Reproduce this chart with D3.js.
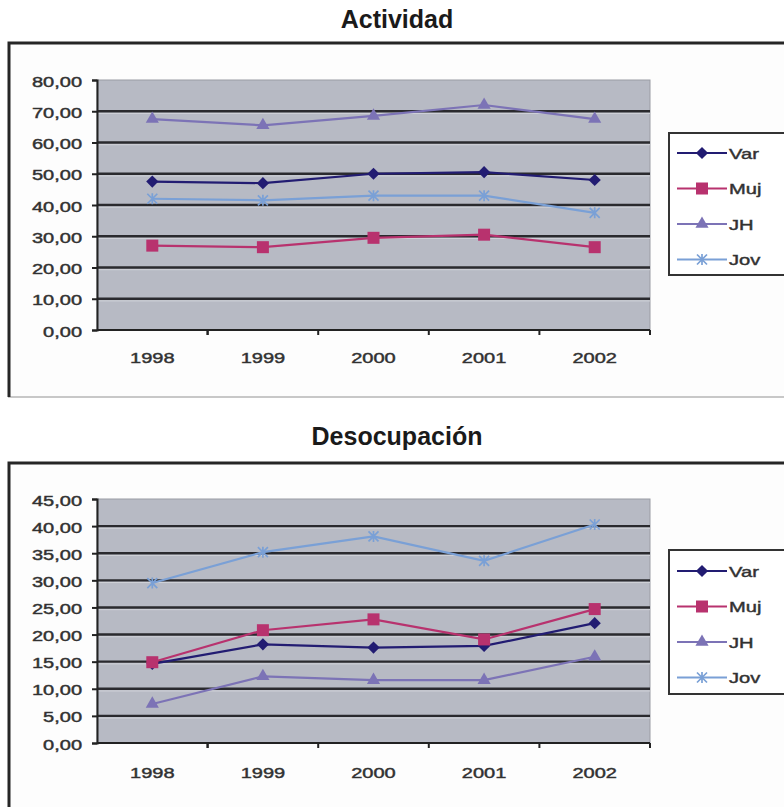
<!DOCTYPE html>
<html>
<head>
<meta charset="utf-8">
<script src="https://cdn.jsdelivr.net/npm/d3@7"></script>
<style>
  body { margin: 0; background: #fff; }
  svg { display: block; }
  .lbl { font-family: "Liberation Sans", Arial, sans-serif; fill: #2e2e2e; stroke: #3a3a3a; stroke-width: 0.45px; }
</style>
</head>
<body>
<div id="vizContainer"></div>
<script>
// data
const years = ["1998", "1999", "2000", "2001", "2002"];
const seriesNames = ["Var", "Muj", "JH", "Jov"];

const actVar = [47.5, 47.0, 50.0, 50.5, 48.0];
const actMuj = [27.0, 26.5, 29.5, 30.5, 26.5];
const actJH  = [67.5, 65.5, 68.5, 72.0, 67.5];
const actJov = [42.0, 41.5, 43.0, 43.0, 37.5];
const actTicks = [0, 10, 20, 30, 40, 50, 60, 70, 80];

const desVar = [14.6, 18.2, 17.6, 17.9, 22.1];
const desMuj = [14.9, 20.8, 22.8, 19.1, 24.7];
const desJH  = [7.2, 12.3, 11.6, 11.6, 15.9];
const desJov = [29.5, 35.2, 38.1, 33.6, 40.3];
const desTicks = [0, 5, 10, 15, 20, 25, 30, 35, 40, 45];

const colors = { Var: "#221c72", Muj: "#b8326e", JH: "#7c73b6", Jov: "#7aa0d6" };
const sx = 1.38; // the scanned labels look stretched wide

const W = 784, H = 807;
const svg = d3.select("#vizContainer").append("svg")
  .attr("width", W).attr("height", H);

const fmt = v => d3.format(".2f")(v).replace(".", ",");

function marker(g, name, x, y) {
  const c = colors[name];
  if (name === "Var") {
    g.append("path").attr("d", d3.symbol(d3.symbolDiamond2, 95)())
      .attr("transform", `translate(${x},${y})`).attr("fill", c);
  } else if (name === "Muj") {
    g.append("rect").attr("x", x - 6).attr("y", y - 6)
      .attr("width", 12).attr("height", 12).attr("fill", c);
  } else if (name === "JH") {
    g.append("path").attr("d", d3.symbol(d3.symbolTriangle, 75)())
      .attr("transform", `translate(${x},${y})`).attr("fill", c);
  } else {
    g.append("path")
      .attr("d", `M${x-5},${y-5}L${x+5},${y+5}M${x-5},${y+5}L${x+5},${y-5}M${x},${y-5.5}L${x},${y+5.5}`)
      .attr("stroke", c).attr("stroke-width", 1.7).attr("fill", "none");
  }
}

function drawChart(opt) {
  const g = svg.append("g");

  // title
  g.append("text").attr("x", 397).attr("y", opt.titleY)
    .attr("text-anchor", "middle")
    .attr("font-family", "Liberation Sans, Arial, sans-serif")
    .attr("font-weight", "bold").attr("font-size", 25).attr("fill", "#1a1a1a")
    .text(opt.title);

  // outer frame
  g.append("rect").attr("x", 9).attr("y", opt.frameTop)
    .attr("width", 820).attr("height", opt.frameBottom - opt.frameTop)
    .attr("fill", "#fdfdfd").attr("stroke", "#c8c8c8").attr("stroke-width", 2);
  g.append("path")
    .attr("d", `M9,${opt.frameBottom}V${opt.frameTop}H${W + 10}`)
    .attr("stroke", "#262626").attr("stroke-width", 3).attr("fill", "none");

  const x = d3.scaleBand().domain(years).range([97, 650]);
  const y = d3.scaleLinear().domain([0, opt.max]).range([opt.plotBottom, opt.plotTop]);

  // plot area
  g.append("rect").attr("x", 97).attr("y", opt.plotTop)
    .attr("width", 553).attr("height", opt.plotBottom - opt.plotTop)
    .attr("fill", "#b7bac4").attr("stroke", "#9a9ca4").attr("stroke-width", 1);

  // gridlines
  g.append("g").selectAll("line").data(opt.ticks.slice(1, -1)).join("line")
    .attr("x1", 97).attr("x2", 650)
    .attr("y1", d => y(d)).attr("y2", d => y(d))
    .attr("stroke", "#2a2a2e").attr("stroke-width", 2.4);
  g.append("g").selectAll("line").data(opt.ticks.slice(1, -1)).join("line")
    .attr("x1", 97).attr("x2", 650)
    .attr("y1", d => y(d) + 2.2).attr("y2", d => y(d) + 2.2)
    .attr("stroke", "#d0d2d8").attr("stroke-width", 1);

  // y axis
  const ya = g.append("g").attr("transform", "translate(97,0)")
    .call(d3.axisLeft(y).tickValues(opt.ticks).tickSize(5).tickFormat(fmt));
  ya.select(".domain").attr("stroke", "#222").attr("stroke-width", 2);
  ya.selectAll(".tick line").attr("stroke", "#222").attr("stroke-width", 2);
  ya.selectAll(".tick text")
    .attr("class", "lbl")
    .attr("x", -15 / sx).attr("dy", "0.42em")
    .attr("transform", `scale(${sx},1)`)
    .attr("font-size", 14.5);

  // x axis
  const xa = g.append("g").attr("transform", `translate(0,${opt.plotBottom})`);
  xa.append("line").attr("x1", 97).attr("x2", 650)
    .attr("stroke", "#222").attr("stroke-width", 2);
  xa.selectAll(".xt").data(years.concat(["end"])).join("line")
    .attr("x1", (d, i) => i < years.length ? x(d) + (i === 0 ? x.bandwidth() : 0) : 650)
    .attr("x2", (d, i) => i < years.length ? x(d) + (i === 0 ? x.bandwidth() : 0) : 650)
    .attr("y1", 0).attr("y2", 5).attr("stroke", "#222").attr("stroke-width", 2);
  xa.selectAll("text").data(years).join("text")
    .attr("class", "lbl")
    .attr("transform", d => `translate(${x(d) + x.bandwidth() / 2},${opt.labelY - opt.plotBottom}) scale(${sx},1)`)
    .attr("text-anchor", "middle")
    .attr("font-size", 14.5)
    .text(d => d);

  // series
  const line = d3.line().x((d, i) => x(years[i]) + x.bandwidth() / 2).y(d => y(d));
  seriesNames.forEach(name => {
    const vals = opt.data[name];
    g.append("path").datum(vals).attr("d", line)
      .attr("fill", "none").attr("stroke", colors[name]).attr("stroke-width", 2.2);
  });
  seriesNames.forEach(name => {
    opt.data[name].forEach((v, i) => marker(g, name, x(years[i]) + x.bandwidth() / 2, y(v)));
  });

  // legend
  const lg = g.append("g");
  lg.append("rect").attr("x", 669).attr("y", opt.legTop)
    .attr("width", 140).attr("height", opt.legBottom - opt.legTop)
    .attr("fill", "#fff").attr("stroke", "#333").attr("stroke-width", 2);
  seriesNames.forEach((name, i) => {
    const ly = opt.legFirst + i * 35.5;
    lg.append("line").attr("x1", 677).attr("x2", 727).attr("y1", ly).attr("y2", ly)
      .attr("stroke", colors[name]).attr("stroke-width", 2.2);
    marker(lg, name, 702, ly);
    lg.append("text")
      .attr("class", "lbl")
      .attr("transform", `translate(729,${ly}) scale(1.3,1)`)
      .attr("dy", "0.38em")
      .attr("font-size", 15.5)
      .text(name);
  });
}

drawChart({
  title: "Actividad", titleY: 28,
  frameTop: 43, frameBottom: 397,
  plotTop: 80, plotBottom: 330, labelY: 363,
  max: 80, ticks: actTicks,
  data: { Var: actVar, Muj: actMuj, JH: actJH, Jov: actJov },
  legTop: 133, legBottom: 275, legFirst: 153
});

drawChart({
  title: "Desocupación", titleY: 445,
  frameTop: 463, frameBottom: 830,
  plotTop: 499, plotBottom: 743, labelY: 778,
  max: 45, ticks: desTicks,
  data: { Var: desVar, Muj: desMuj, JH: desJH, Jov: desJov },
  legTop: 550, legBottom: 694, legFirst: 571
});
</script>
</body>
</html>
